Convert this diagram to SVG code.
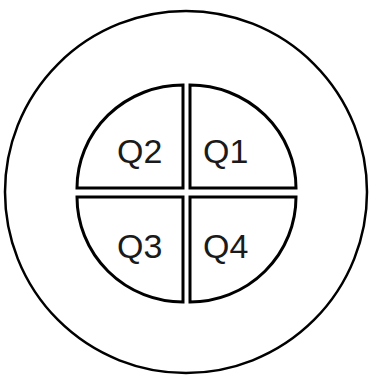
<svg xmlns="http://www.w3.org/2000/svg" width="369" height="377" viewBox="0 0 369 377">
<style>
.ln{fill:none;stroke:#000;stroke-width:2.5;stroke-linejoin:miter}
.q{fill:#fff;stroke:#000;stroke-width:3;stroke-linejoin:miter}
.t{font-family:"Liberation Sans",Arial,sans-serif;font-size:34px;fill:#1a1a1a}
</style>
<rect width="369" height="377" fill="#fff"/>
<g id="outer"><circle class="ln" cx="186" cy="192" r="181"/></g>
<g id="q2"><path class="q" d="M183,85 L183,188 L77,188 A106,103 0 0 1 183,85 Z"/><text class="t" x="117" y="163">Q2</text></g>
<g id="q1"><path class="q" d="M190,85 L190,188 L296,188 A106,103 0 0 0 190,85 Z"/><text class="t" x="203" y="163">Q1</text></g>
<g id="q3"><path class="q" d="M183,197 L183,302 A106,105 0 0 1 77,197 Z"/><text class="t" x="117" y="258">Q3</text></g>
<g id="q4"><path class="q" d="M190,197 L190,302 A106,105 0 0 0 296,197 Z"/><text class="t" x="203" y="258">Q4</text></g>
<g id="connectors"/>
</svg>
